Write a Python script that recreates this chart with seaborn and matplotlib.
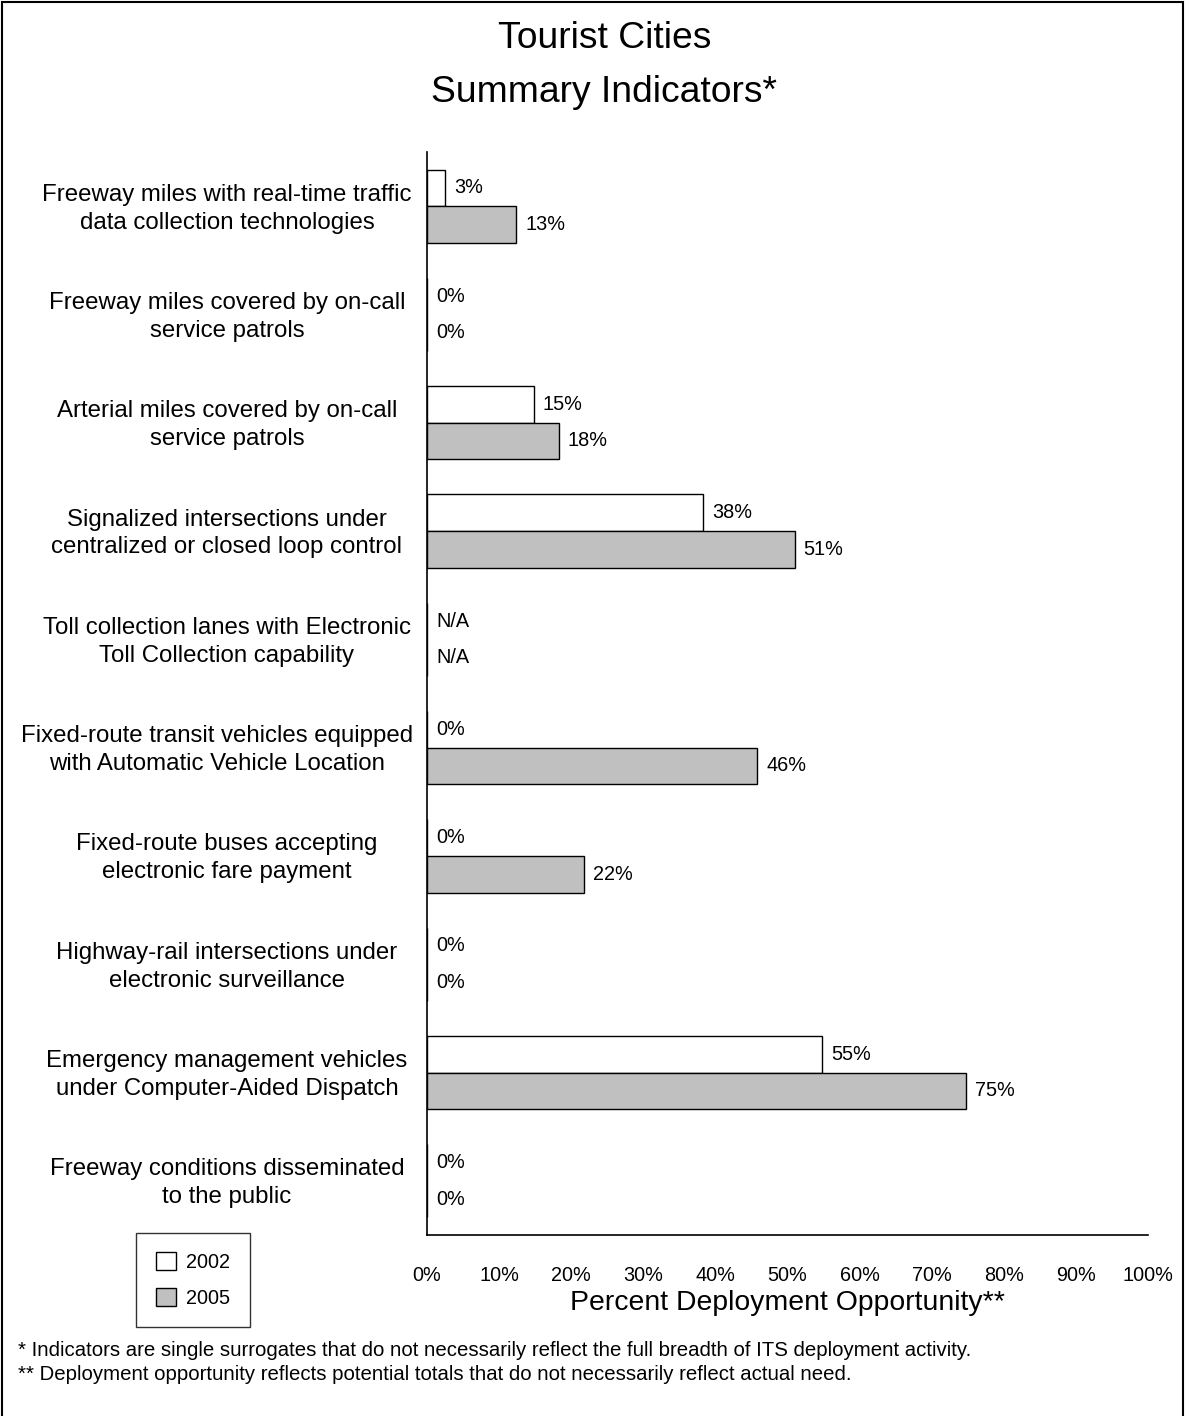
import pandas as pd
import matplotlib.pyplot as plt
import seaborn as sns
from matplotlib.patches import Rectangle
from matplotlib.transforms import ScaledTranslation

categories = [
    'Freeway miles with real-time traffic\ndata collection technologies',
    'Freeway miles covered by on-call\nservice patrols',
    'Arterial miles covered by on-call\nservice patrols',
    'Signalized intersections under\ncentralized or closed loop control',
    'Toll collection lanes with Electronic\nToll Collection capability',
    'Fixed-route transit vehicles equipped\nwith Automatic Vehicle Location',
    'Fixed-route buses accepting\nelectronic fare payment',
    'Highway-rail intersections under\nelectronic surveillance',
    'Emergency management vehicles\nunder Computer-Aided Dispatch',
    'Freeway conditions disseminated\nto the public',
]
# bar lengths as drawn (percent), None = not applicable
values_2002 = [2.5, 0, 14.8, 38.3, None, 0, 0, 0, 54.8, 0]
values_2005 = [12.4, 0, 18.3, 51.0, None, 45.8, 21.8, 0, 74.7, 0]
# printed labels
labels_2002 = ['3%', '0%', '15%', '38%', 'N/A', '0%', '0%', '0%', '55%', '0%']
labels_2005 = ['13%', '0%', '18%', '51%', 'N/A', '46%', '22%', '0%', '75%', '0%']
years = ['2002', '2005']
x_ticks = list(range(0, 101, 10))

rows = []
for cat, v02, v05 in zip(categories, values_2002, values_2005):
    rows.append({'category': cat, 'year': '2002', 'value': v02})
    rows.append({'category': cat, 'year': '2005', 'value': v05})
df = pd.DataFrame(rows)
df['plot_value'] = df['value'].fillna(0)

sns.set_style('white')
plt.rcParams['font.family'] = ['Liberation Sans', 'DejaVu Sans']
plt.rcParams['text.color'] = 'black'
plt.rcParams['axes.labelcolor'] = 'black'
plt.rcParams['xtick.color'] = 'black'
plt.rcParams['ytick.color'] = 'black'

fig = plt.figure(figsize=(11.85, 14.16), dpi=100)
ax = fig.add_axes([0.3603, 0.1278, 0.6084, 0.7649])

sns.barplot(data=df, y='category', x='plot_value', hue='year', hue_order=years,
            order=categories, orient='h', palette={'2002': 'white', '2005': '#C0C0C0'},
            edgecolor='black', linewidth=1, width=0.675, errorbar=None, ax=ax,
            legend=False)

for container, labels in zip(ax.containers, [labels_2002, labels_2005]):
    ax.bar_label(container, labels=labels, padding=6.5, fontsize=14.3)

ax.set_xlim(0, 100)
ax.set_ylim(len(categories) - 0.5, -0.5)
ax.set_xticks(x_ticks)
ax.set_xticklabels([f'{t}%' for t in x_ticks], fontsize=14.3)
ax.tick_params(axis='x', direction='out', length=12, width=1.2, color='black', pad=10)
ax.tick_params(axis='y', length=0, pad=144)
for lbl in ax.get_yticklabels():
    lbl.set_fontsize(17.3)
    lbl.set_horizontalalignment('center')
    lbl.set_multialignment('center')
    lbl.set_linespacing(1.35)

for side in ['top', 'right']:
    ax.spines[side].set_visible(False)
for side in ['left', 'bottom']:
    ax.spines[side].set_color('black')
    ax.spines[side].set_linewidth(1.2)

ax.set_ylabel('')
ax.set_xlabel('Percent Deployment Opportunity**', fontsize=20.4, labelpad=4)

# keep wide category labels clear of the axis line, nudge all up a little
fig.canvas.draw()
renderer = fig.canvas.get_renderer()
for lbl in ax.get_yticklabels():
    bb = lbl.get_window_extent(renderer)
    dx = min(0, 413 - bb.x1)
    lbl.set_transform(lbl.get_transform() + ScaledTranslation(dx / 100, 3 / 100, fig.dpi_scale_trans))

fig.text(0.51, 1 - 38 / 1416, 'Tourist Cities', ha='center', va='center', fontsize=26.8)
fig.text(0.51, 1 - 92 / 1416, 'Summary Indicators*', ha='center', va='center', fontsize=26.8)

fig.text(18 / 1185, 1 - 1350 / 1416,
         '* Indicators are single surrogates that do not necessarily reflect the full breadth of ITS deployment activity.',
         ha='left', va='center', fontsize=14.65)
fig.text(18 / 1185, 1 - 1375 / 1416,
         '** Deployment opportunity reflects potential totals that do not necessarily reflect actual need.',
         ha='left', va='center', fontsize=14.65)

handles = [Rectangle((0, 0), 1, 1, facecolor='white', edgecolor='black', linewidth=1),
           Rectangle((0, 0), 1, 1, facecolor='#C0C0C0', edgecolor='black', linewidth=1)]
leg = fig.legend(handles, years, loc='center', bbox_to_anchor=(193 / 1185, 1 - 1280 / 1416),
                 fontsize=14.3, frameon=True, fancybox=False, edgecolor='black',
                 handlelength=1.0, handleheight=1.0, handletextpad=0.5,
                 borderpad=1.0, labelspacing=0.8, borderaxespad=0)
leg.get_frame().set_linewidth(1)

fig.patches.append(Rectangle((1.5 / 1185, -0.01), 1 - 3.5 / 1185, 1.01 - 2 / 1416,
                             transform=fig.transFigure, fill=False, edgecolor='black',
                             linewidth=1.5))

fig.savefig('out.png', dpi=100)
